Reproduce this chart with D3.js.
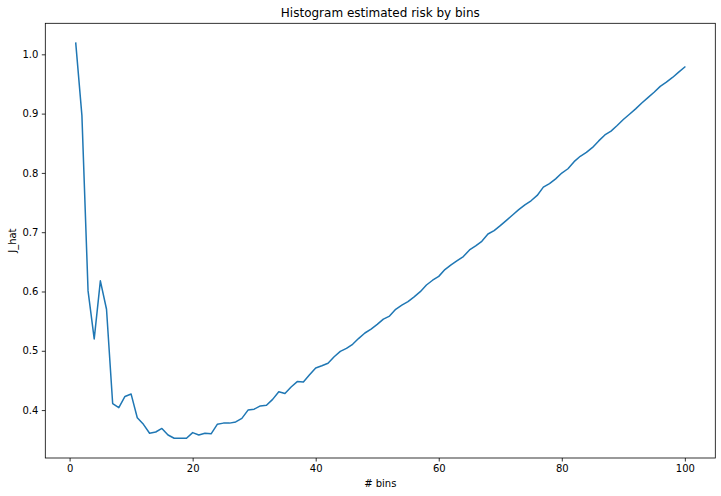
<!DOCTYPE html>
<html>
<head>
<meta charset="utf-8">
<script src="https://cdn.jsdelivr.net/npm/d3@7"></script>
<style>
  html, body { margin: 0; padding: 0; background: #fff; }
  svg { display: block; font-family: "DejaVu Sans", sans-serif; }
</style>
</head>
<body>
<svg id="chart" width="721" height="496"></svg>
<script>
// Data
const bins = d3.range(1, 101);
const jHat = [
  1.019, 0.897, 0.601, 0.520, 0.618, 0.570, 0.411, 0.404, 0.423, 0.427,
  0.387, 0.376, 0.361, 0.363, 0.369, 0.358, 0.3525, 0.3525, 0.3525, 0.362,
  0.358, 0.361, 0.360, 0.376, 0.378, 0.378, 0.380, 0.386, 0.400, 0.4015,
  0.407, 0.408, 0.418, 0.431, 0.428, 0.439, 0.448, 0.4475, 0.4595, 0.471,
  0.4747, 0.479, 0.490, 0.499, 0.504, 0.511, 0.521, 0.530, 0.5366, 0.5445,
  0.5535, 0.5585, 0.570, 0.577, 0.583, 0.591, 0.5997, 0.611, 0.619, 0.6255,
  0.637, 0.645, 0.652, 0.659, 0.670, 0.677, 0.6847, 0.697, 0.7027, 0.711,
  0.720, 0.729, 0.738, 0.746, 0.753, 0.762, 0.776, 0.782, 0.790, 0.7998,
  0.807, 0.819, 0.828, 0.8345, 0.843, 0.854, 0.864, 0.8705, 0.880, 0.890,
  0.899, 0.908, 0.918, 0.927, 0.936, 0.946, 0.953, 0.961, 0.970, 0.9786
];
const xTicks = [0, 20, 40, 60, 80, 100];
const yTicks = [0.4, 0.5, 0.6, 0.7, 0.8, 0.9, 1.0];
const titleText = "Histogram estimated risk by bins";
const xLabel = "# bins";
const yLabel = "J_hat";

const svg = d3.select("#chart");
const margin = { left: 45.3, top: 23.3, right: 721 - 715.3, bottom: 496 - 458 };
const W = 721, H = 496;

// matplotlib-style 5% margins
const xMin = d3.min(bins), xMax = d3.max(bins);
const yMin = d3.min(jHat), yMax = d3.max(jHat);
const xPad = (xMax - xMin) * 0.05, yPad = (yMax - yMin) * 0.05;

const x = d3.scaleLinear()
  .domain([xMin - xPad, xMax + xPad])
  .range([margin.left, W - margin.right]);
const y = d3.scaleLinear()
  .domain([yMin - yPad, yMax + yPad])
  .range([H - margin.bottom, margin.top]);

// Line
const line = d3.line()
  .x((d, i) => x(bins[i]))
  .y(d => y(d));

svg.append("path")
  .datum(jHat)
  .attr("fill", "none")
  .attr("stroke", "#1f77b4")
  .attr("stroke-width", 1.5)
  .attr("stroke-linejoin", "round")
  .attr("stroke-linecap", "square")
  .attr("d", line);

// Axes
const xAxis = d3.axisBottom(x).tickValues(xTicks).tickSize(3.5).tickPadding(3.5).tickFormat(d3.format("d"));
const yAxis = d3.axisLeft(y).tickValues(yTicks).tickSize(3.5).tickPadding(3.5).tickFormat(d3.format(".1f"));

const gx = svg.append("g")
  .attr("transform", `translate(0,${H - margin.bottom})`)
  .call(xAxis);
const gy = svg.append("g")
  .attr("transform", `translate(${margin.left},0)`)
  .call(yAxis);

[gx, gy].forEach(g => {
  g.select(".domain").remove();
  g.selectAll(".tick line").attr("stroke", "#000").attr("stroke-width", 0.8);
  g.selectAll(".tick text").attr("fill", "#000").attr("font-size", 10)
    .attr("font-family", "DejaVu Sans, sans-serif");
});

// Frame (spines)
svg.append("rect")
  .attr("x", margin.left)
  .attr("y", margin.top)
  .attr("width", W - margin.right - margin.left)
  .attr("height", H - margin.bottom - margin.top)
  .attr("fill", "none")
  .attr("stroke", "#000")
  .attr("stroke-width", 0.8);

// Title
svg.append("text")
  .attr("x", (margin.left + W - margin.right) / 2)
  .attr("y", 16.5)
  .attr("text-anchor", "middle")
  .attr("font-size", 12)
  .attr("fill", "#000")
  .text(titleText);

// X label
svg.append("text")
  .attr("x", (margin.left + W - margin.right) / 2)
  .attr("y", 486.5)
  .attr("text-anchor", "middle")
  .attr("font-size", 10)
  .attr("fill", "#000")
  .text(xLabel);

// Y label
svg.append("text")
  .attr("transform", `translate(15.5,${(margin.top + H - margin.bottom) / 2}) rotate(-90)`)
  .attr("text-anchor", "middle")
  .attr("font-size", 10)
  .attr("fill", "#000")
  .text(yLabel);
</script>
</body>
</html>
